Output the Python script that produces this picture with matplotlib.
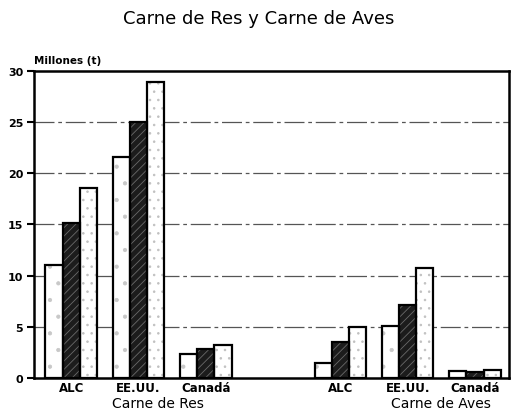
import numpy as np
import matplotlib
matplotlib.use("Agg")
import matplotlib.pyplot as plt

# datos (millones de toneladas)
grupos = ["Carne de Res", "Carne de Aves"]
paises = ["ALC", "EE.UU.", "Canadá"]
res_s1 = [11.0, 21.6, 2.3]
res_s2 = [15.1, 25.0, 2.8]
res_s3 = [18.6, 28.9, 3.2]
aves_s1 = [1.5, 5.1, 0.7]
aves_s2 = [3.5, 7.1, 0.6]
aves_s3 = [5.0, 10.7, 0.8]

s1 = res_s1 + aves_s1
s2 = res_s2 + aves_s2
s3 = res_s3 + aves_s3
pos = np.array([0, 1, 2, 4, 5, 6])
w = 0.255

plt.rcParams['font.family'] = ['DejaVu Sans']
plt.rcParams['hatch.linewidth'] = 0.6

fig = plt.figure(figsize=(5.18, 4.14), dpi=100)
ax = fig.add_axes([0.066, 0.0845, 0.916, 0.742])

estilos = [
    (s1, -w, 'white', '.', '#c8c8c8'),
    (s2, 0, '#1c1c1c', '////', '#6a6a6a'),
    (s3, w, 'white', '..', '#c0c0c0'),
]
for vals, dx, fc, hatch, hc in estilos:
    ax.bar(pos + dx, vals, w, color=fc, hatch=hatch, edgecolor=hc,
           linewidth=0, zorder=3)
    ax.bar(pos + dx, vals, w, fill=False, edgecolor='black',
           linewidth=1.6, zorder=4)

for y in [5, 10, 15, 20, 25]:
    ax.axhline(y, color='#555555', lw=0.9, ls=(0, (16, 3, 3, 3)), zorder=1)

ax.set_xlim(-0.55, 6.5)
ax.set_ylim(0, 30)
ax.set_yticks(range(0, 31, 5))
ax.set_yticklabels([str(v) for v in range(0, 31, 5)], fontsize=8, fontweight='bold')
ax.tick_params(axis='y', direction='out', length=5, width=1.5, pad=3)
ax.set_xticks(pos)
ax.set_xticklabels(paises * 2, fontsize=8.5, fontweight='bold')
ax.tick_params(axis='x', length=0, pad=2)
for sp in ax.spines.values():
    sp.set_linewidth(1.8)

ax.text(1.29, -0.06, grupos[0], transform=ax.get_xaxis_transform(),
        ha='center', va='top', fontsize=10)
ax.text(5.5, -0.06, grupos[1], transform=ax.get_xaxis_transform(),
        ha='center', va='top', fontsize=10)

ax.text(-0.55, 30.6, "Millones (t)", fontsize=7.5, fontweight='bold',
        ha='left', va='bottom')
fig.suptitle("Carne de Res y Carne de Aves", fontsize=13, y=0.975)

fig.savefig("out.png", dpi=100)
